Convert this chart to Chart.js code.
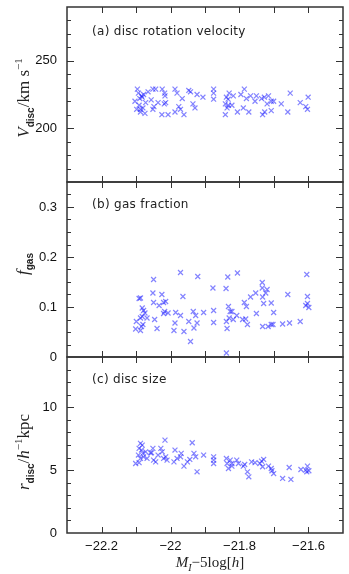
<!DOCTYPE html>
<html>
<head>
<meta charset="utf-8">
<script src="https://cdn.jsdelivr.net/npm/chart.js@4.4.1/dist/chart.umd.min.js"></script>
<style>
  body { margin: 0; background: #fff; }
  #wrap { position: relative; width: 349px; height: 574px; overflow: hidden; color: #222; }
  canvas { position: absolute; left: 0; }
  .lab { position: absolute; font-family: 'DejaVu Sans', sans-serif; font-size: 12px; white-space: nowrap; letter-spacing: 0.3px; }
  .ytitle { position: absolute; transform: translate(-50%, -50%) rotate(-90deg); font-family: 'Liberation Serif', serif; font-size: 17px; white-space: nowrap; }
  .ytitle sub, .xtitle sub { font-family: 'Liberation Sans', sans-serif; font-weight: bold; font-size: 10px; }
  .ytitle sup { font-size: 11px; }
  .xtitle { position: absolute; transform: translate(-50%, -50%); font-family: 'Liberation Serif', serif; font-size: 15px; white-space: nowrap; }
</style>
</head>
<body>
<div id="wrap">
  <canvas id="cA" width="349" height="184" style="top:0"></canvas>
  <canvas id="cB" width="349" height="190" style="top:180px"></canvas>
  <canvas id="cC" width="349" height="219" style="top:355px"></canvas>
  <div class="lab" style="left:92px;top:24px">(a) disc rotation velocity</div>
  <div class="lab" style="left:92px;top:197px">(b) gas fraction</div>
  <div class="lab" style="left:92px;top:372px">(c) disc size</div>
  <div class="ytitle" style="left:24px;top:98px"><i>V</i><sub>disc</sub>/km s<sup>−1</sup></div>
  <div class="ytitle" style="left:24px;top:264px"><i>f</i><sub>gas</sub></div>
  <div class="ytitle" style="left:24px;top:452px"><i>r</i><sub>disc</sub>/<i>h</i><sup>−1</sup>kpc</div>
  <div class="xtitle" style="left:210px;top:563px"><i>M</i><sub style="font-family:'Liberation Serif';font-style:italic;font-weight:normal">I</sub>−5log[<i>h</i>]</div>
</div>
<script>
// shared x axis: M_I - 5log h
const xMin = -22.3, xMax = -21.5;
const xTicks = [-22.2, -22, -21.8, -21.6];

// (a) disc rotation velocity
const xVel = [-22.096, -22.093, -22.103, -22.084, -22.082, -22.091, -22.087, -22.080, -22.074, -22.087,
  -22.072, -22.065, -22.051, -22.043, -22.048, -22.051, -22.036, -22.024, -22.017, -22.016,
  -22.018, -22.025, -22.007, -21.987, -21.981, -21.987, -21.971, -21.966, -21.961, -21.947,
  -21.942, -21.935, -21.929, -21.923, -21.906, -21.875, -21.875, -21.875, -21.838, -21.833,
  -21.841, -21.836, -21.841, -21.830, -21.822, -21.818, -21.806, -21.796, -21.786, -21.789,
  -21.780, -21.773, -21.768, -21.755, -21.751, -21.736, -21.733, -21.727, -21.728, -21.716,
  -21.708, -21.708, -21.701, -21.679, -21.660, -21.653, -21.624, -21.608, -21.601, -21.603,
  -21.720, -21.832, -21.976, -22.014, -22.056, -22.098, -22.078, -22.089];
const vDisc = [229, 226, 220, 224, 223, 217, 214, 215, 211, 212,
  219, 227, 229, 229, 216, 214, 219, 229, 226, 224,
  218, 210, 210, 229, 226, 212, 214, 222, 210, 228,
  227, 218, 215, 225, 223, 229, 226, 221.5, 223, 221.5,
  218, 215, 210, 226, 217, 224, 212, 225, 229, 215,
  222, 212, 224, 220, 224, 222, 210, 212, 223, 224,
  220, 213, 220, 218, 212, 226, 219, 216, 223, 214,
  218, 217, 216, 219, 221, 214, 225, 222];

// (b) gas fraction
const xGas = [-22.091, -22.087, -22.082, -22.099, -22.101, -22.087, -22.082, -22.084, -22.080, -22.074,
  -22.068, -22.087, -22.078, -22.049, -22.051, -22.049, -22.046, -22.039, -22.033, -22.025,
  -22.020, -22.014, -22.017, -22.020, -22.007, -21.987, -21.990, -21.985, -21.971, -21.971,
  -21.964, -21.961, -21.947, -21.942, -21.934, -21.932, -21.927, -21.923, -21.921, -21.904,
  -21.877, -21.875, -21.875, -21.839, -21.834, -21.838, -21.836, -21.838, -21.832, -21.827,
  -21.822, -21.830, -21.818, -21.806, -21.808, -21.791, -21.786, -21.780, -21.777, -21.782,
  -21.768, -21.753, -21.751, -21.734, -21.734, -21.733, -21.730, -21.733, -21.724, -21.720,
  -21.717, -21.708, -21.708, -21.701, -21.703, -21.675, -21.660, -21.655, -21.624, -21.605,
  -21.603, -21.608, -21.603, -21.599];
const fGas = [0.117, 0.118, 0.098, 0.071, 0.056, 0.078, 0.081, 0.061, 0.065, 0.088,
  0.078, 0.053, 0.093, 0.155, 0.128, 0.109, 0.075, 0.057, 0.103, 0.125,
  0.109, 0.111, 0.091, 0.087, 0.088, 0.068, 0.053, 0.089, 0.169, 0.083,
  0.121, 0.051, 0.071, 0.031, 0.091, 0.058, 0.083, 0.068, 0.161, 0.089,
  0.138, 0.093, 0.069, 0.137, 0.160, 0.071, 0.057, 0.008, 0.101, 0.091,
  0.091, 0.078, 0.075, 0.168, 0.083, 0.075, 0.109, 0.101, 0.065, 0.076,
  0.120, 0.128, 0.087, 0.149, 0.138, 0.120, 0.107, 0.061, 0.128, 0.135,
  0.061, 0.108, 0.065, 0.089, 0.065, 0.066, 0.125, 0.068, 0.071, 0.165,
  0.121, 0.103, 0.107, 0.099];

// (c) disc size
const xSize = [-22.101, -22.093, -22.091, -22.087, -22.082, -22.084, -22.080, -22.087, -22.078, -22.072,
  -22.091, -22.068, -22.058, -22.051, -22.049, -22.043, -22.036, -22.028, -22.024, -22.020,
  -22.014, -22.016, -22.010, -21.990, -21.987, -21.981, -21.971, -21.969, -21.961, -21.951,
  -21.944, -21.937, -21.932, -21.927, -21.923, -21.904, -21.875, -21.875, -21.875, -21.838,
  -21.836, -21.832, -21.827, -21.822, -21.822, -21.808, -21.803, -21.789, -21.785, -21.777,
  -21.773, -21.765, -21.755, -21.741, -21.736, -21.730, -21.733, -21.716, -21.708, -21.701,
  -21.706, -21.675, -21.656, -21.651, -21.622, -21.608, -21.603, -21.599, -21.605, -22.055];
const rDisc = [5.53, 6.20, 6.73, 7.13, 6.99, 6.60, 6.33, 5.93, 6.06, 6.46,
  5.59, 5.93, 6.38, 6.73, 5.80, 5.66, 6.20, 6.73, 6.46, 5.93,
  6.06, 7.39, 5.80, 5.66, 6.60, 5.93, 6.06, 6.33, 5.32, 5.66,
  5.85, 7.18, 6.33, 6.06, 4.87, 6.20, 6.06, 5.80, 5.53, 5.93,
  5.53, 5.13, 5.80, 5.53, 5.32, 5.80, 5.53, 5.32, 5.45, 4.87,
  4.47, 5.66, 5.59, 5.53, 5.72, 5.85, 5.27, 5.32, 5.13, 4.73,
  4.95, 4.34, 5.21, 4.26, 5.05, 5.00, 5.32, 4.95, 4.87, 6.38];

const tickFont = { family: "'Liberation Sans', sans-serif", size: 13 };
const minus = v => (v < 0 ? '\u2212' : '') + Math.abs(+v.toFixed(2));

// frame with inward ticks on all four sides
const framePlugin = {
  id: 'frame',
  afterDraw(chart, args, opts) {
    const { ctx, chartArea: a, scales: { x, y } } = chart;
    ctx.save();
    ctx.strokeStyle = '#333';
    ctx.lineWidth = 1;
    ctx.beginPath();
    for (let i = 1; i < 8; i++) {
      const px = Math.round(x.getPixelForValue(xMin + i * 0.1)) + 0.5;
      ctx.moveTo(px, a.top); ctx.lineTo(px, a.top + 6);
      ctx.moveTo(px, a.bottom); ctx.lineTo(px, a.bottom - 6);
    }
    const n = Math.round((opts.yMax - opts.yMin) / opts.minor);
    for (let i = 1; i < n; i++) {
      const v = opts.yMin + i * opts.minor;
      const major = Math.abs(v / opts.major - Math.round(v / opts.major)) < 1e-6;
      const len = major ? 7 : 4;
      const py = Math.round(y.getPixelForValue(v)) + 0.5;
      ctx.moveTo(a.left, py); ctx.lineTo(a.left + len, py);
      ctx.moveTo(a.right, py); ctx.lineTo(a.right - len, py);
    }
    ctx.stroke();
    ctx.lineWidth = 1.5;
    ctx.strokeRect(a.left, a.top, a.right - a.left, a.bottom - a.top);
    ctx.restore();
  }
};

function panel(id, xs, ys, yMin, yMax, major, minor, pad, showX) {
  const pts = xs.map((v, i) => ({ x: v, y: ys[i] }));
  return new Chart(document.getElementById(id), {
    type: 'scatter',
    data: {
      datasets: [{
        data: pts,
        pointStyle: 'crossRot',
        pointRadius: 3.5,
        borderWidth: 1.2,
        borderColor: 'rgba(30, 30, 255, 0.55)',
        backgroundColor: 'rgba(30, 30, 255, 0.55)'
      }]
    },
    options: {
      responsive: false,
      animation: false,
      devicePixelRatio: 1,
      layout: { autoPadding: false, padding: { left: 0, right: 6, top: pad.top, bottom: pad.bottom } },
      plugins: { legend: { display: false }, tooltip: { enabled: false }, frame: { yMin, yMax, major, minor } },
      scales: {
        x: {
          type: 'linear', min: xMin, max: xMax, display: showX,
          afterFit: s => { s.height = showX ? 41 : 0; s.paddingLeft = 0; s.paddingRight = 0; },
          grid: { display: false, drawTicks: false },
          border: { display: false },
          ticks: {
            stepSize: 0.2, includeBounds: false, padding: 6, color: '#111', font: tickFont,
            callback: v => minus(v)
          },
          afterBuildTicks: s => { s.ticks = xTicks.map(v => ({ value: v })); }
        },
        y: {
          type: 'linear', min: yMin, max: yMax,
          afterFit: s => { s.width = 67; s.paddingTop = 0; s.paddingBottom = 0; },
          grid: { display: false, drawTicks: false },
          border: { display: false },
          ticks: {
            stepSize: major, includeBounds: false, padding: 10, color: '#111', font: tickFont,
            callback: v => minus(v)
          }
        }
      }
    },
    plugins: [framePlugin]
  });
}

panel('cA', xVel, vDisc, 160, 290, 50, 10, { top: 7, bottom: 2 }, false);
panel('cB', xGas, fGas, 0, 0.35, 0.1, 0.025, { top: 2, bottom: 13 }, false);
panel('cC', xSize, rDisc, 0, 14, 5, 1, { top: 2, bottom: 0 }, true);
</script>
</body>
</html>
